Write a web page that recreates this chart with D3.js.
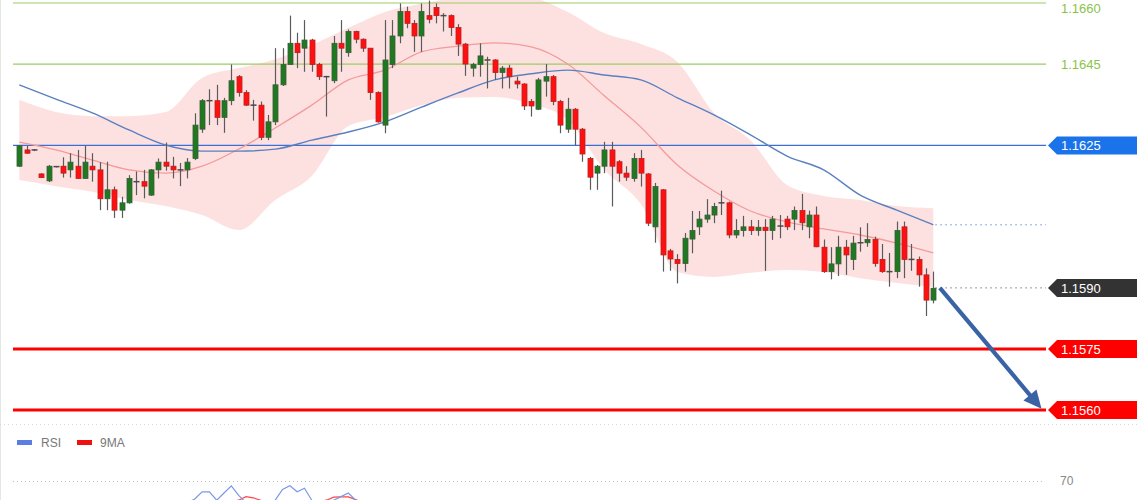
<!DOCTYPE html>
<html><head><meta charset="utf-8">
<script src="https://cdn.jsdelivr.net/npm/d3@7/dist/d3.min.js"></script>
<style>html,body{margin:0;padding:0;background:#fff;}svg{display:block;font-family:"Liberation Sans",Arial,sans-serif;}</style>
</head><body><div id="chart"></div>
<script>
// ---- candle data (EUR/USD) ----
const openP = [1.16199,1.16239,1.16239,1.16180,1.16163,1.16198,1.16199,1.16190,1.16199,1.16169,
1.16199,1.16190,1.16119,1.16141,1.16091,1.16109,1.16161,1.16161,1.16128,1.16190,
1.16209,1.16199,1.16190,1.16190,1.16218,1.16290,1.16360,1.16360,1.16319,1.16360,
1.16419,1.16380,1.16349,1.16349,1.16270,1.16308,1.16399,1.16449,1.16501,1.16489,
1.16509,1.16449,1.16419,1.16409,1.16501,1.16478,1.16530,1.16511,1.16489,1.16380,
1.16300,1.16449,1.16519,1.16579,1.16550,1.16519,1.16569,1.16589,1.16569,1.16569,
1.16540,1.16499,1.16440,1.16449,1.16460,1.16460,1.16429,1.16440,1.16408,1.16401,
1.16358,1.16339,1.16408,1.16419,1.16358,1.16290,1.16339,1.16290,1.16218,1.16182,
1.16199,1.16239,1.16210,1.16182,1.16169,1.16218,1.16180,1.16050,1.16141,1.15991,
1.15970,1.15960,1.16020,1.16050,1.16069,1.16079,1.16109,1.16109,1.16030,1.16041,
1.16050,1.16041,1.16049,1.16041,1.16052,1.16069,1.16069,1.16090,1.16050,1.16079,
1.16000,1.15940,1.15959,1.16000,1.15970,1.16011,1.16011,1.16019,1.15970,1.15940,
1.15940,1.16050,1.15970,1.15970,1.15932,1.15870];
const highP = [1.16251,1.16249,1.16241,1.16182,1.16202,1.16199,1.16221,1.16231,1.16239,1.16249,
1.16231,1.16209,1.16210,1.16149,1.16124,1.16177,1.16186,1.16190,1.16192,1.16218,
1.16257,1.16222,1.16207,1.16219,1.16329,1.16364,1.16388,1.16399,1.16367,1.16449,
1.16423,1.16386,1.16362,1.16358,1.16325,1.16489,1.16489,1.16569,1.16527,1.16558,
1.16512,1.16453,1.16421,1.16519,1.16558,1.16535,1.16532,1.16513,1.16489,1.16383,
1.16558,1.16558,1.16599,1.16591,1.16558,1.16599,1.16606,1.16599,1.16575,1.16572,
1.16548,1.16502,1.16453,1.16501,1.16468,1.16462,1.16445,1.16448,1.16419,1.16403,
1.16364,1.16416,1.16450,1.16423,1.16362,1.16367,1.16342,1.16293,1.16222,1.16202,
1.16259,1.16259,1.16214,1.16199,1.16231,1.16239,1.16182,1.16158,1.16143,1.15996,
1.15983,1.16035,1.16089,1.16089,1.16118,1.16109,1.16139,1.16112,1.16069,1.16077,
1.16067,1.16067,1.16069,1.16077,1.16079,1.16077,1.16100,1.16131,1.16090,1.16100,
1.16019,1.16000,1.16028,1.16018,1.16028,1.16049,1.16059,1.16026,1.16008,1.15986,
1.16063,1.16063,1.16008,1.15977,1.15948,1.15940];
const lowP = [1.16197,1.16229,1.16236,1.16170,1.16160,1.16196,1.16171,1.16171,1.16168,1.16168,
1.16161,1.16091,1.16091,1.16072,1.16072,1.16107,1.16128,1.16120,1.16126,1.16169,
1.16188,1.16169,1.16150,1.16169,1.16214,1.16281,1.16300,1.16300,1.16281,1.16349,
1.16370,1.16347,1.16311,1.16263,1.16263,1.16300,1.16396,1.16448,1.16440,1.16431,
1.16431,1.16411,1.16321,1.16403,1.16431,1.16468,1.16501,1.16480,1.16362,1.16306,
1.16280,1.16440,1.16501,1.16538,1.16480,1.16480,1.16550,1.16550,1.16530,1.16519,
1.16470,1.16421,1.16419,1.16419,1.16390,1.16411,1.16390,1.16390,1.16390,1.16337,
1.16321,1.16337,1.16370,1.16349,1.16280,1.16281,1.16251,1.16210,1.16141,1.16141,
1.16182,1.16100,1.16161,1.16163,1.16161,1.16149,1.16052,1.16011,1.15940,1.15942,
1.15911,1.15940,1.15985,1.16030,1.16060,1.16059,1.16079,1.16022,1.16022,1.16026,
1.16030,1.16028,1.15942,1.16018,1.16022,1.16042,1.16042,1.16042,1.16022,1.16000,
1.15937,1.15921,1.15929,1.15932,1.15944,1.15989,1.16001,1.15952,1.15937,1.15903,
1.15924,1.15924,1.15942,1.15903,1.15831,1.15862];
const closeP = [1.16249,1.16231,1.16239,1.16171,1.16199,1.16198,1.16182,1.16209,1.16169,1.16209,
1.16190,1.16119,1.16141,1.16091,1.16109,1.16169,1.16161,1.16150,1.16190,1.16209,
1.16199,1.16190,1.16190,1.16209,1.16300,1.16360,1.16360,1.16319,1.16360,1.16409,
1.16380,1.16349,1.16349,1.16270,1.16308,1.16399,1.16449,1.16501,1.16478,1.16509,
1.16449,1.16419,1.16419,1.16501,1.16489,1.16530,1.16511,1.16489,1.16380,1.16308,
1.16460,1.16519,1.16579,1.16550,1.16519,1.16579,1.16560,1.16569,1.16569,1.16540,
1.16499,1.16450,1.16449,1.16470,1.16460,1.16429,1.16440,1.16419,1.16401,1.16347,
1.16347,1.16411,1.16419,1.16358,1.16300,1.16339,1.16290,1.16229,1.16172,1.16199,
1.16239,1.16199,1.16182,1.16172,1.16218,1.16182,1.16059,1.16149,1.15981,1.15971,
1.15960,1.16022,1.16041,1.16069,1.16079,1.16100,1.16109,1.16030,1.16041,1.16050,
1.16041,1.16049,1.16041,1.16069,1.16052,1.16050,1.16090,1.16060,1.16079,1.16001,
1.15940,1.15959,1.16000,1.15981,1.16010,1.16011,1.16019,1.15960,1.15940,1.15940,
1.16041,1.15970,1.15970,1.15932,1.15870,1.15899];

// ---- overlay indicators, sampled at candle indices ----
const ovIdx = [0,5,10,15,20,25,30,35,40,45,50,55,60,65,70,75,80,85,90,95,100,105,110,115,120,125];
const bandUpper = [1.16362,1.16332,1.16322,1.16322,1.16332,1.16416,1.16440,1.16462,1.16497,1.16539,1.16578,1.16598,1.16612,1.16615,1.16612,1.16578,1.16526,1.16499,1.16455,1.16330,1.16263,1.16153,1.16126,1.16116,1.16101,1.16096];
const bandLower = [1.16165,1.16150,1.16136,1.16116,1.16101,1.16079,1.16042,1.16116,1.16175,1.16298,1.16320,1.16349,1.16367,1.16369,1.16352,1.16313,1.16190,1.16106,1.15939,1.15927,1.15937,1.15944,1.15939,1.15924,1.15912,1.15902];
const maRed = [1.16258,1.16239,1.16214,1.16190,1.16182,1.16199,1.16241,1.16293,1.16349,1.16411,1.16435,1.16480,1.16494,1.16502,1.16492,1.16450,1.16372,1.16295,1.16202,1.16138,1.16089,1.16062,1.16045,1.16030,1.16010,1.15986];
const maBlue = [1.16399,1.16364,1.16330,1.16288,1.16251,1.16236,1.16236,1.16241,1.16263,1.16283,1.16308,1.16344,1.16379,1.16411,1.16426,1.16435,1.16423,1.16411,1.16367,1.16325,1.16276,1.16224,1.16190,1.16128,1.16091,1.16055];

// ---- levels ----
const greenLevels = [1.1660, 1.1645];
const blueLevel = 1.1625;
const currentPrice = 1.1590;
const redLevels = [1.1575, 1.1560];
const levelLabels = ["1.1660","1.1645","1.1625","1.1590","1.1575","1.1560"];
const arrowFrom = {i: 125.9, p: 1.1590};
const arrowTo = {i: 139.8, p: 1.15603};

// ---- RSI panel (visible part) ----
const rsiStart = 23;
const rsiVals = [52,55,61,61,54,60,66,58,52,50,49,50,54,63,66,61,64,54,50,48,54,57,60,54,50];
const rsiMa   = [45,47,49,51,52,53,53,54,57,56,54,52,51,51,52,53,53,53,53,54,56.5,56.7,56.7,54.5,52];
const rsiLevel = 70;

// ---- drawing ----
const W = 1140, H = 500;
const svg = d3.select("#chart").append("svg").attr("width", W).attr("height", H);
svg.append("rect").attr("width", W).attr("height", H).attr("fill", "#fff");

const x = d3.scaleLinear().domain([0, 125]).range([19.3, 933.3]);
const y = d3.scaleLinear().domain([1.1560, 1.1660]).range([410, 3]);
const lineL = 13, lineR = 1046;

// left border
svg.append("line").attr("x1",0.5).attr("x2",0.5).attr("y1",0).attr("y2",H).attr("stroke","#e4e8e4");

const main = svg.append("g");
const ov = ovIdx.map((d,k)=>({i:d, u:bandUpper[k], l:bandLower[k], r:maRed[k], b:maBlue[k]}));

main.append("path").datum(ov)
  .attr("d", d3.area().curve(d3.curveMonotoneX).x(d=>x(d.i)).y0(d=>y(d.l)).y1(d=>y(d.u)))
  .attr("fill", "#fde1e1");

// green levels
greenLevels.forEach((p,k)=>{
  main.append("line").attr("x1",lineL).attr("x2",lineR).attr("y1",y(p)).attr("y2",y(p))
    .attr("stroke","#9ccc65").attr("stroke-width",1.2);
  svg.append("text").attr("x",1061).attr("y",Math.max(y(p)+4.7, 12.5)).attr("font-size",13)
    .attr("fill","#8bc34a").text(levelLabels[k]);
});

// blue level
main.append("line").attr("x1",lineL).attr("x2",lineR).attr("y1",y(blueLevel)).attr("y2",y(blueLevel))
  .attr("stroke","#3b6fd6").attr("stroke-width",1.3);

// MA lines
main.append("path").datum(ov)
  .attr("d", d3.line().curve(d3.curveMonotoneX).x(d=>x(d.i)).y(d=>y(d.r)))
  .attr("fill","none").attr("stroke","#f49a9a").attr("stroke-width",1.3);
main.append("path").datum(ov)
  .attr("d", d3.line().curve(d3.curveMonotoneX).x(d=>x(d.i)).y(d=>y(d.b)))
  .attr("fill","none").attr("stroke","#5a80c0").attr("stroke-width",1.4);

// dotted extensions
const lastBlue = maBlue[maBlue.length-1];
main.append("line").attr("x1",x(125)+2).attr("x2",lineR).attr("y1",y(lastBlue)).attr("y2",y(lastBlue))
  .attr("stroke","#6d8fcf").attr("stroke-width",1).attr("stroke-dasharray","1.5,3.5");
main.append("line").attr("x1",x(125)+2).attr("x2",lineR).attr("y1",y(currentPrice)).attr("y2",y(currentPrice))
  .attr("stroke","#777").attr("stroke-width",1).attr("stroke-dasharray","1.5,3.5");

// red levels
redLevels.forEach(p=>{
  main.append("line").attr("x1",lineL).attr("x2",lineR).attr("y1",y(p)).attr("y2",y(p))
    .attr("stroke","#ff0000").attr("stroke-width",3);
});

// candles
const candles = openP.map((o,i)=>({i, o, h:highP[i], l:lowP[i], c:closeP[i]}));
const cg = main.append("g");
const bw = 5;
candles.forEach(d=>{
  const cx = Math.round(x(d.i)) + 0.5;
  cg.append("line").attr("x1",cx).attr("x2",cx).attr("y1",y(d.h)).attr("y2",y(d.l))
    .attr("stroke","#5a5a5a").attr("stroke-width",1.2);
  if (d.c === d.o) {
    cg.append("line").attr("x1",cx-bw/2-0.5).attr("x2",cx+bw/2+0.5).attr("y1",y(d.c)).attr("y2",y(d.c))
      .attr("stroke","#4a4a4a").attr("stroke-width",1.5);
  } else {
    const up = d.c > d.o;
    const top = y(Math.max(d.o,d.c)), bot = y(Math.min(d.o,d.c));
    cg.append("rect").attr("x",cx-bw/2).attr("y",top).attr("width",bw).attr("height",Math.max(1.5,bot-top))
      .attr("fill", up ? "#1f7a1f" : "#ff1010")
      .attr("stroke", up ? "#3d5a3d" : "#b82020").attr("stroke-width",0.8);
  }
});

// arrow
const ax1 = x(arrowFrom.i), ay1 = y(arrowFrom.p), ax2 = x(arrowTo.i), ay2 = y(arrowTo.p);
const dx = ax2-ax1, dy = ay2-ay1, len = Math.hypot(dx,dy), ux = dx/len, uy = dy/len;
const headL = 18, headW = 8.5;
svg.append("line").attr("x1",ax1).attr("y1",ay1).attr("x2",ax2-ux*(headL-2)).attr("y2",ay2-uy*(headL-2))
  .attr("stroke","#3a63a6").attr("stroke-width",4.2);
const bx = ax2-ux*headL, by = ay2-uy*headL;
svg.append("polygon").attr("points",[[ax2,ay2],[bx-uy*headW,by+ux*headW],[bx+uy*headW,by-ux*headW]].map(p=>p.join(",")).join(" "))
  .attr("fill","#3a63a6");

// label tags
function tag(p, text, fill) {
  const c = y(p);
  svg.append("polygon").attr("points",[[1048,c],[1057,c-9],[1137,c-9],[1137,c+9],[1057,c+9]].map(q=>q.join(",")).join(" "))
    .attr("fill", fill);
  svg.append("text").attr("x",1061).attr("y",c).attr("dy","0.36em").attr("font-size",13)
    .attr("fill","#fff").text(text);
}
tag(blueLevel, levelLabels[2], "#1a73e8");
tag(currentPrice, levelLabels[3], "#333333");
tag(redLevels[0], levelLabels[4], "#ff0000");
tag(redLevels[1], levelLabels[5], "#ff0000");

// separator
svg.append("line").attr("x1",0).attr("x2",1138).attr("y1",424.5).attr("y2",424.5)
  .attr("stroke","#d6d9d6").attr("stroke-width",1).attr("stroke-dasharray","1,3");

// RSI panel
const ry = d3.scaleLinear().domain([70, 30]).range([481, 529]);
svg.append("rect").attr("x",17).attr("y",440).attr("width",15).attr("height",5).attr("fill","#5b7fe0");
svg.append("text").attr("x",41).attr("y",447).attr("font-size",12).attr("fill","#777").text("RSI");
svg.append("rect").attr("x",77).attr("y",440).attr("width",15).attr("height",5).attr("fill","#ee1111");
svg.append("text").attr("x",100).attr("y",447).attr("font-size",12).attr("fill","#777").text("9MA");

svg.append("line").attr("x1",lineL).attr("x2",lineR-1).attr("y1",ry(rsiLevel)+0.5).attr("y2",ry(rsiLevel)+0.5)
  .attr("stroke","#bbb").attr("stroke-width",1).attr("stroke-dasharray","1,3");
svg.append("text").attr("x",1060).attr("y",ry(rsiLevel)).attr("dy","0.36em").attr("font-size",12)
  .attr("fill","#888").text(String(rsiLevel));

const rsiLine = d3.line().x((d,k)=>x(rsiStart+k)).y(d=>ry(d));
svg.append("path").datum(rsiMa).attr("d",rsiLine).attr("fill","none").attr("stroke","#ff4444").attr("stroke-width",1.2);
svg.append("path").datum(rsiVals).attr("d",rsiLine).attr("fill","none").attr("stroke","#7b98e8").attr("stroke-width",1.2);
</script></body></html>
